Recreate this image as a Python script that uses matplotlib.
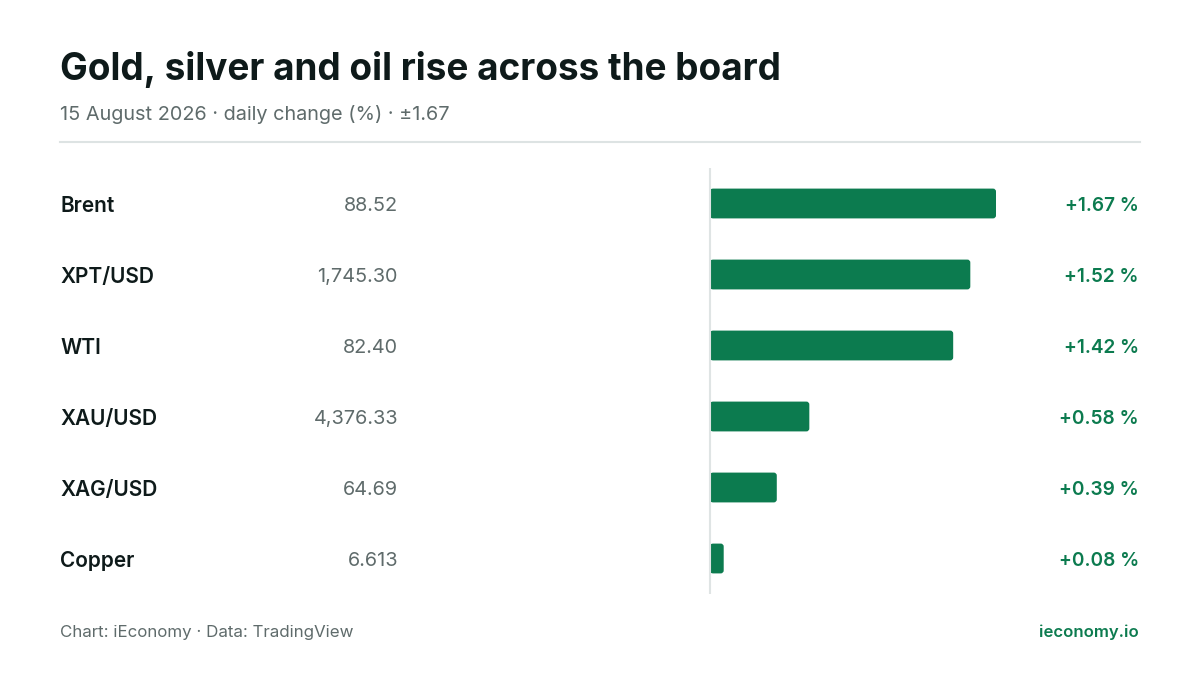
import matplotlib.pyplot as plt
from matplotlib.patches import FancyBboxPatch
from matplotlib.transforms import blended_transform_factory

plt.rcParams['font.family'] = ['Inter', 'DejaVu Sans']

names = ['Brent', 'XPT/USD', 'WTI', 'XAU/USD', 'XAG/USD', 'Copper']
prices = ['88.52', '1,745.30', '82.40', '4,376.33', '64.69', '6.613']
changes = [1.67, 1.52, 1.42, 0.58, 0.39, 0.08]

green = '#0c7b4f'
dark = '#0e1a1a'
grey = '#5f6b6b'

fig = plt.figure(figsize=(12, 6.75), dpi=100)
fig.patch.set_facecolor('white')

# bar area: zero line at x=710px, domain +-1.67
ax = fig.add_axes([424 / 1200, 1 - 594 / 675, 572 / 1200, 426 / 675])
lim = max(abs(c) for c in changes)
ax.set_xlim(-lim, lim)
ax.set_ylim(len(names) - 0.5, -0.5)
ax.axis('off')

bar_h = 0.42
rx = 3 / 171.3   # ~3px in x units
ry = 3 / 71.0    # ~3px in y units
for i, c in enumerate(changes):
    patch = FancyBboxPatch((0, i - bar_h / 2), c, bar_h,
                           boxstyle=f'round,pad=0,rounding_size={rx}',
                           mutation_aspect=ry / rx,
                           facecolor=green, edgecolor='none', zorder=2)
    ax.add_patch(patch)
    # square left end
    ax.barh(i, min(c, 2 * rx), height=bar_h, left=0, color=green, zorder=2)

ax.axvline(0, color='#dfe4e4', lw=1.5, zorder=3)

tr = blended_transform_factory(fig.transFigure, ax.transData)
dy = 2.5 / 71  # nudge text down a little
for i, (n, p, c) in enumerate(zip(names, prices, changes)):
    fig.text(60 / 1200, i + dy, n, transform=tr, ha='left', va='center',
             fontsize=15, fontweight='semibold', color=dark)
    fig.text(398 / 1200, i + dy, p, transform=tr, ha='right', va='center',
             fontsize=14.3, color=grey)
    fig.text(1139 / 1200, i + dy, f'+{c:.2f} %', transform=tr, ha='right', va='center',
             fontsize=13.7, fontweight='semibold', color=green)

fig.text(60 / 1200, 1 - 69 / 675, 'Gold, silver and oil rise across the board',
         ha='left', va='center', fontsize=26.6, fontweight='bold', color=dark)
fig.text(60 / 1200, 1 - 115 / 675, '15 August 2026 · daily change (%) · ±1.67',
         ha='left', va='center', fontsize=14.3, color=grey)
fig.add_artist(plt.Line2D([60 / 1200, 1140 / 1200], [1 - 142 / 675, 1 - 142 / 675],
                          color='#dde3e3', lw=1.5))

fig.text(60 / 1200, 1 - 632 / 675, 'Chart: iEconomy · Data: TradingView',
         ha='left', va='center', fontsize=12.2, color=grey)
fig.text(1139 / 1200, 1 - 632 / 675, 'ieconomy.io',
         ha='right', va='center', fontsize=12, fontweight='semibold', color=green)

fig.savefig('out.png', dpi=100, facecolor='white')
